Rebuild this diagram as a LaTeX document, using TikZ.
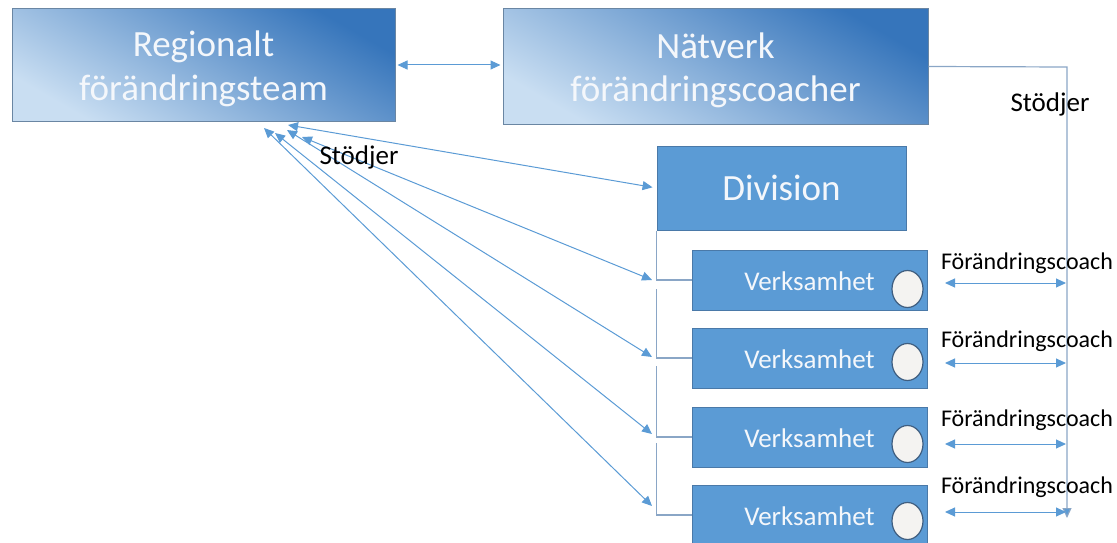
\documentclass[tikz,border=0pt]{standalone}
\usepackage{fontspec}
\setmainfont{Carlito}
\usetikzlibrary{arrows.meta,calc}
\definecolor{boxblue}{HTML}{5B9BD5}
\definecolor{boxedge}{HTML}{4A79A8}
\definecolor{graddark}{HTML}{3675BB}
\definecolor{gradlight}{HTML}{C9DEF2}
\definecolor{gradedge}{HTML}{6A86A3}
\definecolor{arrowblue}{HTML}{5B9BD5}
\definecolor{linegray}{HTML}{8AA6C6}
\definecolor{txtwhite}{HTML}{F4F7FB}
\definecolor{ellfill}{HTML}{F4F3F1}
\definecolor{elledge}{HTML}{3F5E80}
\tikzset{
  gradbox/.style={draw=gradedge, line width=1pt, top color=graddark, bottom color=gradlight, shading angle=-30,
    inner sep=0pt},
  gradtext/.style={inner sep=0pt, align=center, text=txtwhite, font=\fontsize{37}{43.5}\selectfont},
  divbox/.style={draw=boxedge, line width=1pt, fill=boxblue, inner sep=0pt, text=txtwhite,
    minimum width=249pt, minimum height=84pt, font=\fontsize{37}{44}\selectfont},
  verkbox/.style={draw=boxedge, line width=1pt, fill=boxblue, inner sep=0pt, text=txtwhite,
    minimum width=235pt, minimum height=60pt},
  verktext/.style={text=txtwhite, font=\fontsize{27}{32}\selectfont, inner sep=0pt},
  coinshape/.style={draw=elledge, line width=1.2pt, fill=ellfill},
  dbl/.style={draw=arrowblue, line width=1pt, {Triangle[length=10pt,width=9pt]}-{Triangle[length=10pt,width=9pt]}},
  sgl/.style={draw=linegray, line width=1.2pt, -{Triangle[length=10pt,width=9pt,fill=arrowblue]}},
  bracket/.style={draw=linegray, line width=1.2pt},
  lbl/.style={text=black, inner sep=0pt},
}
\begin{document}
\begin{tikzpicture}[x=1pt,y=-1pt]
\useasboundingbox (0,0) rectangle (1117,543);
\begin{scope}
\clip (0,0) rectangle (1117,543);
% main boxes
\node[gradbox, minimum width=383pt, minimum height=112pt] (R) at (203.5,65) {};
\node[gradtext] (Rt) at ($(R.center)+(0,4)$) {Regionalt\\förändringsteam};
\node[gradbox, minimum width=425pt, minimum height=115pt] (N) at (715.5,66.5) {};
\node[gradtext] (Nt) at ($(N.center)+(0,4)$) {Nätverk\\förändringscoacher};
\node[divbox] (D) at (781.5,188) {Division};
\node[verkbox] (V1) at (809.5,280) {};
\node[verkbox] (V2) at (809.5,358) {};
\node[verkbox] (V3) at (809.5,437) {};
\node[verkbox] (V4) at (809.5,515) {};
\foreach \i/\dy in {1/9,2/4,3/7,4/6}{
  \node[verktext] (T\i) at ($(V\i.center)+(0,1)$) {Verksamhet};
  \draw[coinshape] ($(V\i.center)+(98,\dy)$) ellipse (15.5pt and 18.5pt);
}
% bracket
\draw[bracket] (D.south west) |- (V1.west);
\draw[bracket] ($(V1.west)+(-35,9)$) |- (V2.west);
\draw[bracket] ($(V2.west)+(-35,8)$) |- (V3.west);
\draw[bracket] ($(V3.west)+(-35,6)$) |- (V4.west);
% top double arrow
\draw[dbl, shorten <=2pt, shorten >=2pt] (R.east) -- (R.east -| N.west);
% fan of arrows from Regional
\coordinate (s0) at (288,125);
\coordinate (s1) at (302,137);
\coordinate (s2) at (287,130);
\coordinate (s3) at (275,133);
\coordinate (s4) at (264,128);
\coordinate (a1) at (652,280);
\coordinate (a2) at (652,357);
\coordinate (a3) at (652,434);
\coordinate (a4) at (652,506);
\draw[dbl, shorten >=4pt] (s0) -- (D.west);
\draw[dbl] (s1) -- (a1);
\draw[dbl] (s2) -- (a2);
\draw[dbl] (s3) -- (a3);
\draw[dbl] (s4) -- (a4);
\node[lbl, font=\fontsize{27}{30}\selectfont] (st1) at (359,157) {Stödjer};
% right support line
\coordinate (cR) at (1067,67);
\coordinate (cB) at (1067,518);
\draw[sgl] (N.east) -- (cR) -- (cB);
\node[lbl, font=\fontsize{27}{30}\selectfont] (st2) at (1050,104) {Stödjer};
% coach arrows
\foreach \i/\y/\ly in {1/283/263,2/363/341,3/444/420,4/512/487}{
  \coordinate (cl\i) at (945,\y);
  \coordinate (cr\i) at (1066,\y);
  \draw[dbl] (cl\i) -- (cr\i);
  \node[lbl, font=\fontsize{24}{28}\selectfont] (fc\i) at (1027,\ly) {Förändringscoach};
}
\end{scope}
\end{tikzpicture}
\end{document}
